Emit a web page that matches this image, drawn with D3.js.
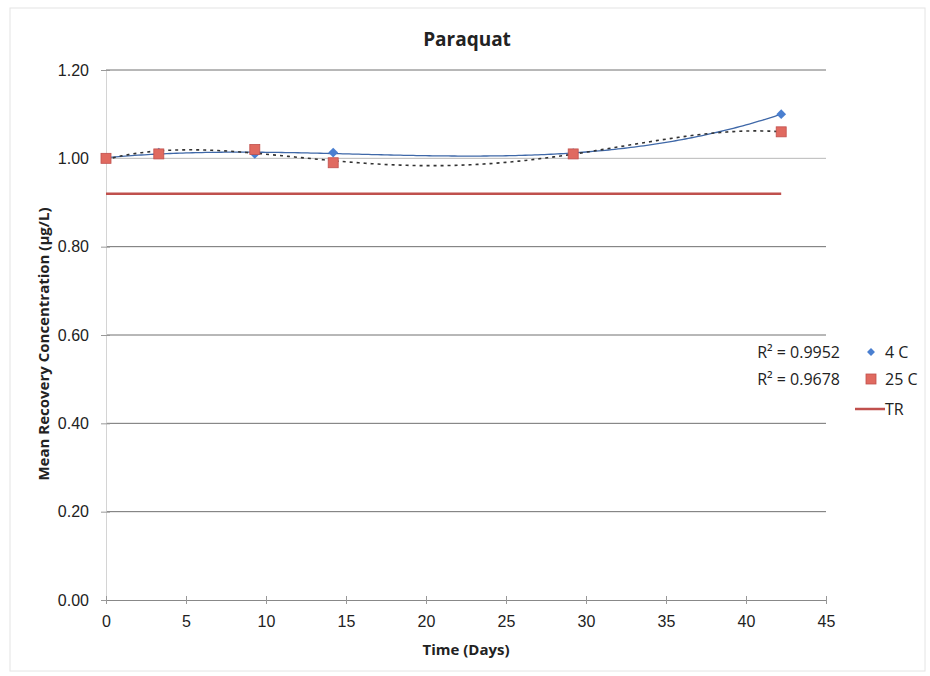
<!DOCTYPE html>
<html><head><meta charset="utf-8">
<script src="https://cdn.jsdelivr.net/npm/d3@7"></script>
<style>body{margin:0;background:#fff;} svg{display:block;font-family:"Open Sans","Noto Sans",sans-serif;}</style>
</head><body>
<script>
const title = "Paraquat";
const days = [0, 3.3, 9.3, 14.2, 29.2, 42.2];
const series4C = [1.00, 1.013, 1.01, 1.013, 1.012, 1.10];
const series25C = [1.00, 1.01, 1.02, 0.99, 1.01, 1.06];
const trDays = [0, 42.2];
const trValues = [0.92, 0.92];
const xTicks = [0,5,10,15,20,25,30,35,40,45];
const yTicks = [0,0.2,0.4,0.6,0.8,1.0,1.2];
const r2Labels = ["R² = 0.9952", "R² = 0.9678"];
const legendLabels = ["4 C", "25 C", "TR"];

const W = 930, H = 676;
const svg = d3.select("body").append("svg").attr("width", W).attr("height", H);
svg.append("rect").attr("x",10).attr("y",8).attr("width",915).attr("height",663)
  .attr("fill","none").attr("stroke","#e4e4e4").attr("stroke-width",1);

const x = d3.scaleLinear().domain([0,45]).range([106,826]);
const y = d3.scaleLinear().domain([0,1.2]).range([600,70]);

// gridlines
svg.append("g").selectAll("line").data(yTicks.filter(d=>d>0)).join("line")
  .attr("x1",x(0)).attr("x2",x(45)).attr("y1",d=>y(d)).attr("y2",d=>y(d))
  .attr("stroke",d=>d===1.0?"#b8b8b8":"#707070").attr("stroke-width",1);

// axes
const yAxis = svg.append("g").attr("transform",`translate(${x(0)},0)`)
  .call(d3.axisLeft(y).tickValues(yTicks).tickFormat(d3.format(".2f")).tickSize(5).tickPadding(12));
yAxis.select(".domain").attr("stroke","#d4d4d4");
yAxis.selectAll(".tick line").attr("stroke","#999").attr("x1",4);
yAxis.selectAll("text").attr("font-size",16).attr("fill","#222");
const xAxis = svg.append("g").attr("transform",`translate(0,${y(0)})`)
  .call(d3.axisBottom(x).tickValues(xTicks).tickSize(4).tickPadding(12));
xAxis.select(".domain").attr("stroke","#888");
xAxis.selectAll(".tick line").attr("stroke","#999").attr("y1",-4);
xAxis.selectAll("text").attr("font-size",16).attr("fill","#222");

// polynomial fit (trendlines derived from the data)
function polyfit(xs, ys, order){
  const n = order+1;
  const A = Array.from({length:n},()=>new Array(n+1).fill(0));
  for(let i=0;i<n;i++){
    for(let j=0;j<n;j++) A[i][j] = d3.sum(xs, xv=>Math.pow(xv,i+j));
    A[i][n] = d3.sum(xs.map((xv,k)=>ys[k]*Math.pow(xv,i)));
  }
  for(let c=0;c<n;c++){
    let p=c; for(let r=c+1;r<n;r++) if(Math.abs(A[r][c])>Math.abs(A[p][c])) p=r;
    [A[c],A[p]]=[A[p],A[c]];
    for(let r=0;r<n;r++){ if(r===c) continue; const f=A[r][c]/A[c][c];
      for(let k=c;k<=n;k++) A[r][k]-=f*A[c][k]; }
  }
  const coef = A.map((row,i)=>row[n]/row[i]);
  return xv => coef.reduce((s,cf,i)=>s+cf*Math.pow(xv,i),0);
}
const f4 = polyfit(days, series4C, 4);
const f25 = polyfit(days, series25C, 4);
const xs = d3.range(0, 42.2001, 0.2);
const line = d3.line().x(d=>x(d[0])).y(d=>y(d[1]));
svg.append("path").attr("d", line(xs.map(v=>[v,f4(v)])))
  .attr("fill","none").attr("stroke","#3f68a8").attr("stroke-width",1.3);
svg.append("path").attr("d", line(xs.map(v=>[v,f25(v)])))
  .attr("fill","none").attr("stroke","#333").attr("stroke-width",1.6).attr("stroke-dasharray","3,4");

// TR line
svg.append("path").attr("d", line(trDays.map((d,i)=>[d,trValues[i]])))
  .attr("fill","none").attr("stroke","#c0504d").attr("stroke-width",2.5);

// markers
const diamond = d3.symbol().type(d3.symbolDiamond2).size(60);
svg.append("g").selectAll("path").data(days).join("path")
  .attr("transform",(d,i)=>`translate(${x(d)},${y(series4C[i])})`)
  .attr("d",diamond).attr("fill","#4a7fd0");
svg.append("g").selectAll("rect").data(days).join("rect")
  .attr("x",d=>x(d)-5).attr("y",(d,i)=>y(series25C[i])-5).attr("width",10).attr("height",10)
  .attr("fill","#e06a60").attr("stroke","#c0504d").attr("stroke-width",0.8);

// title
svg.append("text").attr("x",467).attr("y",46).attr("text-anchor","middle")
  .attr("font-size",19).attr("font-weight","bold").attr("fill","#222").text(title);
// axis titles
svg.append("text").attr("x",466).attr("y",655).attr("text-anchor","middle")
  .attr("font-size",15).attr("font-weight","bold").attr("fill","#222").text("Time (Days)");
svg.append("text").attr("transform","translate(49,344) rotate(-90)").attr("text-anchor","middle")
  .attr("font-size",15).attr("font-weight","bold").attr("fill","#222").text("Mean Recovery Concentration (µg/L)");

// R² labels
svg.append("g").selectAll("text").data(r2Labels).join("text")
  .attr("x",840).attr("y",(d,i)=>358+i*27).attr("text-anchor","end")
  .attr("font-size",16).attr("fill","#222").text(d=>d);

// legend
const lg = svg.append("g");
lg.append("path").attr("transform","translate(871,352)").attr("d",d3.symbol().type(d3.symbolDiamond2).size(40)).attr("fill","#4a7fd0");
lg.append("rect").attr("x",866).attr("y",374).attr("width",10).attr("height",10).attr("fill","#e06a60").attr("stroke","#c0504d").attr("stroke-width",0.8);
lg.append("line").attr("x1",855).attr("x2",885).attr("y1",409).attr("y2",409).attr("stroke","#c0504d").attr("stroke-width",2.5);
lg.selectAll("text").data(legendLabels).join("text")
  .attr("x",885).attr("y",(d,i)=>[358,385,415][i])
  .attr("font-size",16).attr("fill","#222").text(d=>d);
</script>
</body></html>
